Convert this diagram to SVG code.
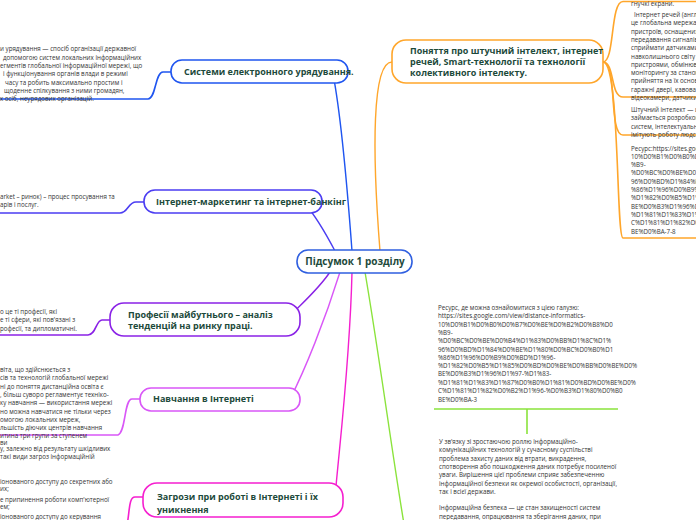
<svg xmlns="http://www.w3.org/2000/svg" width="696" height="520" viewBox="0 0 696 520">
<style>
.n{fill:#fff;stroke-width:1.6}
.t{font-family:"Open Sans","Noto Sans",sans-serif;font-weight:700;font-size:9px;fill:#1d4a3b}
.s{font-family:"Open Sans","Noto Sans",sans-serif;font-size:6.2px;fill:#333}
.c{fill:none;stroke-width:1.4;stroke-linecap:round}
.u{fill:none;stroke-width:1.6}
.or{stroke:#ffa62b}.bl{stroke:#1f55f0}.in{stroke:#4b3df2}.pu{stroke:#8a22e6}.vi{stroke:#d957f7}.ma{stroke:#f51fcf}.gr{stroke:#8be33c}
</style>
<rect width="696" height="520" fill="#fff"/>
<g id="connectors">
<path class="c or" d="M380,251 C372,150 372,62 392,62"/>
<path class="c bl" d="M352,251 C346,170 340,110 333,74"/>
<path class="c in" d="M335,251 C325,232 314,214 305,204"/>
<path class="c pu" d="M330,272 C318,290 300,305 288,318"/>
<path class="c vi" d="M340,272 C325,320 305,370 290,399"/>
<path class="c ma" d="M352,272 C350,360 340,440 335,497"/>
<path class="c gr" d="M365,272 C380,360 393,460 405,530"/>
<path class="u or" d="M603,62 C615,62 610,1.5 623,1.5 L696,1.5"/>
<path class="u or" d="M603,62 C615,62 610,97 623,97 L696,97"/>
<path class="u or" d="M603,62 C618,62 608,135 623,135 L696,135"/>
<path class="u or" d="M603,62 C620,62 616,238 623,238 L696,238"/>
<path class="u bl" d="M0,99 L148,99 C156,99 155,72 163,72 L171,72"/>
<path class="u in" d="M0,213 L120,213 C128,213 128,202 136,202 L144,202"/>
<path class="u pu" d="M0,335 L88,335 C96,335 96,320 102,320 L110,320"/>
<path class="u vi" d="M0,435 L118,435 C126,432 124,399 132,399 L140,399"/>
<path class="u ma" d="M143,497 L135,497 C128,497 130,515 126,530"/>
<path class="u gr" d="M434,409 L618,409 M527,409 L527,434"/>
</g>
<g id="root">
<rect class="n" x="297" y="250" width="115" height="23" rx="11" stroke="#2f5fe0"/>
<text class="t" x="355" y="265" text-anchor="middle" style="font-size:10px">Підсумок 1 розділу</text>
</g>
<g id="node-ai">
<rect class="n or" x="392" y="40" width="211" height="43" rx="14"/>
<text class="t" x="410" y="54">Поняття про штучний інтелект, інтернет</text>
<text class="t" x="410" y="65">речей, Smart-технології та технології</text>
<text class="t" x="410" y="76">колективного інтелекту.</text>
</g>
<g id="node-egov">
<rect class="n bl" x="171" y="60" width="177" height="23" rx="11"/>
<text class="t" x="184" y="75">Системи електронного урядування.</text>
</g>
<g id="node-marketing">
<rect class="n in" x="144" y="190" width="178" height="23" rx="11"/>
<text class="t" x="156" y="205">Інтернет-маркетинг та інтернет-банкінг</text>
</g>
<g id="node-prof">
<rect class="n pu" x="110" y="303" width="190" height="33" rx="14"/>
<text class="t" x="128" y="318">Професії майбутнього – аналіз</text>
<text class="t" x="128" y="329">тенденцій на ринку праці.</text>
</g>
<g id="node-learn">
<rect class="n vi" x="140" y="388" width="160" height="23" rx="11"/>
<text class="t" x="153" y="402">Навчання в Інтернеті</text>
</g>
<g id="node-threats">
<rect class="n ma" x="143" y="483" width="200" height="34" rx="14"/>
<text class="t" x="157" y="500">Загрози при роботі в Інтернеті і їх</text>
<text class="t" x="157" y="513">уникнення</text>
</g>
<g id="text-egov" class="s">
<text x="0" y="51.3">и урядування  — спосіб організації державної</text>
<text x="3" y="59.6">допомогою систем локальних інформаційних</text>
<text x="0" y="68">егментів глобальної інформаційної мережі, що</text>
<text x="3" y="76.3">і функціонування органів влади в режимі</text>
<text x="5" y="84.6">часу та робить максимально простим і</text>
<text x="4" y="93">щоденне спілкування з ними громадян,</text>
<text x="0" y="101.3">х осіб, неурядових організацій.</text>
</g>
<g id="text-marketing" class="s">
<text x="0" y="199">arket – ринок) – процес просування та</text>
<text x="0" y="207.3">арів і послуг.</text>
</g>
<g id="text-prof" class="s">
<text x="0" y="314">о це ті професії, які</text>
<text x="0" y="322.3">е ті сфери, які пов'язані з</text>
<text x="0" y="330.6">рофесії, та дипломатичні.</text>
</g>
<g id="text-learn" class="s">
<text x="0" y="372">віта, що здійснюється з</text>
<text x="0" y="380.3">сів та технологій глобальної мережі</text>
<text x="0" y="388.6">ні до поняття дистанційна освіта є</text>
<text x="0" y="396.9">, більш суворо регламентує техніко-</text>
<text x="0" y="405.2">ку навчання — використання мережі</text>
<text x="0" y="413.5">но можна навчатися не тільки через</text>
<text x="0" y="421.8">омогою локальних мереж,</text>
<text x="0" y="430.1">льшість діючих центрів навчання</text>
<text x="0" y="438.4">итина три групи за ступенем</text>
</g>
<g id="text-threats" class="s">
<text x="0" y="445">ви</text>
<text x="0" y="451">у, залежно від результату шкідливих</text>
<text x="0" y="459.3">такі види загроз інформаційній</text>
<text x="0" y="484">іонованого доступу до секретних або</text>
<text x="0" y="490.5">их;</text>
<text x="0" y="502">е припинення роботи комп'ютерної</text>
<text x="0" y="508.5">ем;</text>
<text x="0" y="519">іонованого доступу до керування</text>
</g>
<g id="text-ai" class="s">
<text x="631" y="5.5">гнучкі екрани.</text>
<text x="634" y="17">Інтернет речей (англ. Internet of Things)</text>
<text x="631" y="25.3">це глобальна мережа фізичних</text>
<text x="631" y="33.6">пристроїв, оснащених технологіями</text>
<text x="631" y="41.9">передавання сигналів, що</text>
<text x="631" y="50.2">сприймати датчиками параметри</text>
<text x="631" y="58.5">навколишнього світу</text>
<text x="631" y="66.8">пристроями, обмінюватися</text>
<text x="631" y="75.1">моніторингу за станом</text>
<text x="631" y="83.4">прийняття на їх основі</text>
<text x="631" y="91.7">гаражні двері, кавоварки</text>
<text x="631" y="100">відеокамери, датчики</text>
<text x="631" y="112">Штучний інтелект — це</text>
<text x="631" y="120.3">займається розробкою</text>
<text x="631" y="128.6">систем, інтелектуальних</text>
<text x="631" y="136.9">імітують роботу людського</text>
<text x="631" y="150.5">Ресурс:https://sites.google.com</text>
<text x="631" y="158.8">10%D0%B1%D0%B0%D0%B7</text>
<text x="631" y="167.1">%B9-</text>
<text x="631" y="175.4">%D0%BC%D0%BE%D0%B4%D1</text>
<text x="631" y="183.7">96%D0%BD%D1%84%D0%BE</text>
<text x="631" y="192">%86%D1%96%D0%B9%D0%BD</text>
<text x="631" y="200.3">%D1%82%D0%B5%D1%85%D0</text>
<text x="631" y="208.6">BE%D0%B3%D1%96%D1%97</text>
<text x="631" y="216.9">%D1%81%D1%83%D1%87%D0</text>
<text x="631" y="225.2">C%D1%81%D1%82%D0%B2%D1</text>
<text x="631" y="233.5">BE%D0%BA-7-8</text>
</g>
<g id="text-security" class="s">
<text x="438" y="310">Ресурс, де можна ознайомитися з цією галузю:</text>
<text x="438" y="318.3">https://sites.google.com/view/distance-informatics-</text>
<text x="438" y="326.6">10%D0%B1%D0%B0%D0%B7%D0%BE%D0%B2%D0%B8%D0</text>
<text x="438" y="334.9">%B9-</text>
<text x="438" y="343.2">%D0%BC%D0%BE%D0%B4%D1%83%D0%BB%D1%8C%D1%</text>
<text x="438" y="351.5">96%D0%BD%D1%84%D0%BE%D1%80%D0%BC%D0%B0%D1</text>
<text x="438" y="359.8">%86%D1%96%D0%B9%D0%BD%D1%96-</text>
<text x="438" y="368.1">%D1%82%D0%B5%D1%85%D0%BD%D0%BE%D0%BB%D0%BE%D0%</text>
<text x="438" y="376.4">BE%D0%B3%D1%96%D1%97-%D1%83-</text>
<text x="438" y="384.7">%D1%81%D1%83%D1%87%D0%B0%D1%81%D0%BD%D0%BE%D0%</text>
<text x="438" y="393">C%D1%81%D1%82%D0%B2%D1%96-%D0%B3%D1%80%D0%B0</text>
<text x="438" y="402">BE%D0%BA-3</text>
<text x="439" y="444">У зв'язку зі зростаючою роллю інформаційно-</text>
<text x="439" y="452.3">комунікаційних технологій у сучасному суспільстві</text>
<text x="439" y="460.6">проблема захисту даних від втрати, викрадення,</text>
<text x="439" y="468.9">спотворення або пошкодження даних потребує посиленої</text>
<text x="439" y="477.2">уваги. Вирішення цієї проблеми сприяє забезпеченню</text>
<text x="439" y="485.5">інформаційної безпеки як окремої особистості, організації,</text>
<text x="439" y="493.8">так і всієї держави.</text>
<text x="439" y="510.4">Інформаційна безпека — це стан захищеності систем</text>
<text x="439" y="518.7">передавання, опрацювання та зберігання даних, при</text>
</g>
</svg>
